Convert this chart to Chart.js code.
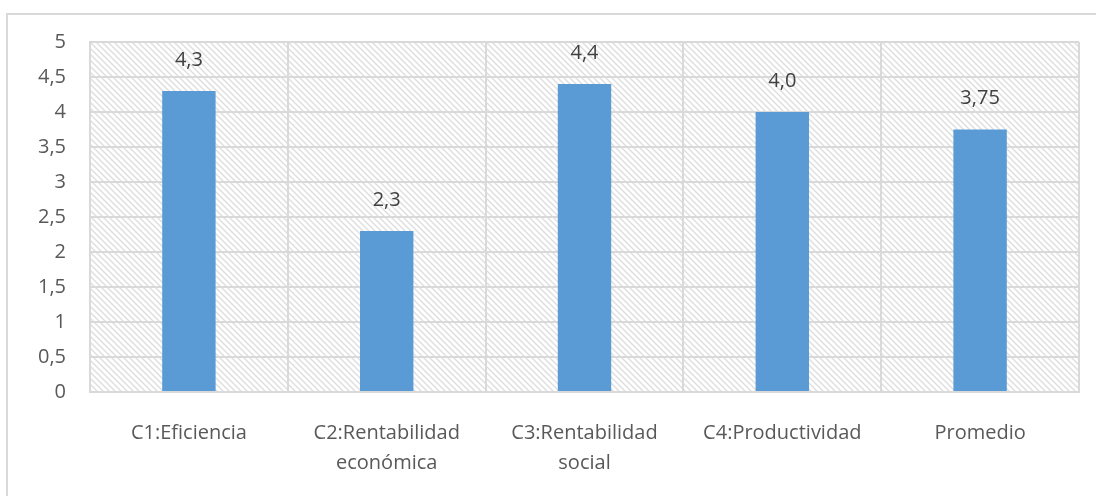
<!DOCTYPE html>
<html>
<head>
<meta charset="utf-8">
<script src="https://cdn.jsdelivr.net/npm/chart.js@4"></script>
<style>
  html, body { margin: 0; padding: 0; background: #fff; }
  #wrap { width: 1096px; height: 496px; position: relative; }
</style>
</head>
<body>
<div id="wrap"><canvas id="chart"></canvas></div>
<script>
// data
const categories = [
  'C1:Eficiencia',
  ['C2:Rentabilidad', 'económica'],
  ['C3:Rentabilidad', 'social'],
  'C4:Productividad',
  'Promedio'
];
const values = [4.3, 2.3, 4.4, 4.0, 3.75];
const valueLabels = ['4,3', '2,3', '4,4', '4,0', '3,75'];

const font = "'Open Sans', Lato, sans-serif";
const textColor = '#595959';
const gridColor = '#d9d9d9';

// hatch pattern for plot background
function makeHatch() {
  const c = document.createElement('canvas');
  c.width = 6;
  c.height = 6;
  const g = c.getContext('2d');
  g.fillStyle = '#fff';
  g.fillRect(0, 0, 6, 6);
  g.strokeStyle = '#dedede';
  g.lineWidth = 1.4;
  g.beginPath();
  g.moveTo(-1, -1); g.lineTo(7, 7);
  g.moveTo(-4, 2); g.lineTo(4, 10);
  g.moveTo(2, -4); g.lineTo(10, 4);
  g.stroke();
  return c;
}

const background = {
  id: 'background',
  beforeDraw(chart) {
    const { ctx, chartArea: a } = chart;
    ctx.save();
    // outer frame (only left and top edges show)
    ctx.strokeStyle = gridColor;
    ctx.lineWidth = 2;
    ctx.beginPath();
    ctx.moveTo(7, 496);
    ctx.lineTo(7, 14);
    ctx.lineTo(1096, 14);
    ctx.stroke();
    ctx.fillStyle = ctx.createPattern(makeHatch(), 'repeat');
    ctx.fillRect(a.left, a.top, a.right - a.left, a.bottom - a.top);
    ctx.restore();
  }
};

const valueLabelsPlugin = {
  id: 'valueLabels',
  afterDatasetsDraw(chart) {
    const { ctx } = chart;
    const meta = chart.getDatasetMeta(0);
    ctx.save();
    ctx.font = '20px ' + font;
    ctx.fillStyle = '#404040';
    ctx.textAlign = 'center';
    ctx.textBaseline = 'middle';
    meta.data.forEach((bar, i) => {
      ctx.fillText(valueLabels[i], bar.x, bar.y - 31);
    });
    ctx.restore();
  }
};

new Chart(document.getElementById('chart'), {
  type: 'bar',
  data: {
    labels: categories,
    datasets: [{
      data: values,
      backgroundColor: '#5b9bd5',
      borderWidth: 0,
      barPercentage: 0.27,
      categoryPercentage: 1
    }]
  },
  options: {
    responsive: true,
    maintainAspectRatio: false,
    animation: false,
    layout: { padding: { left: 7, top: 42, right: 17, bottom: 0 } },
    plugins: {
      legend: { display: false },
      tooltip: { enabled: false }
    },
    scales: {
      y: {
        min: 0,
        max: 5,
        ticks: {
          stepSize: 0.5,
          color: textColor,
          font: { family: font, size: 20 },
          padding: 24,
          callback: (v) => String(v).replace('.', ',')
        },
        grid: { color: gridColor, lineWidth: 2, drawTicks: false },
        border: { color: gridColor, width: 2 },
        afterFit(scale) { scale.width = 83; }
      },
      x: {
        ticks: {
          color: textColor,
          font: { family: font, size: 20, lineHeight: 1.5 },
          padding: 26,
          maxRotation: 0,
          autoSkip: false
        },
        grid: { color: gridColor, lineWidth: 2, offset: true, drawTicks: false },
        border: { color: gridColor, width: 2 },
        afterFit(scale) { scale.height = 104; }
      }
    }
  },
  plugins: [background, valueLabelsPlugin]
});
</script>
</body>
</html>
